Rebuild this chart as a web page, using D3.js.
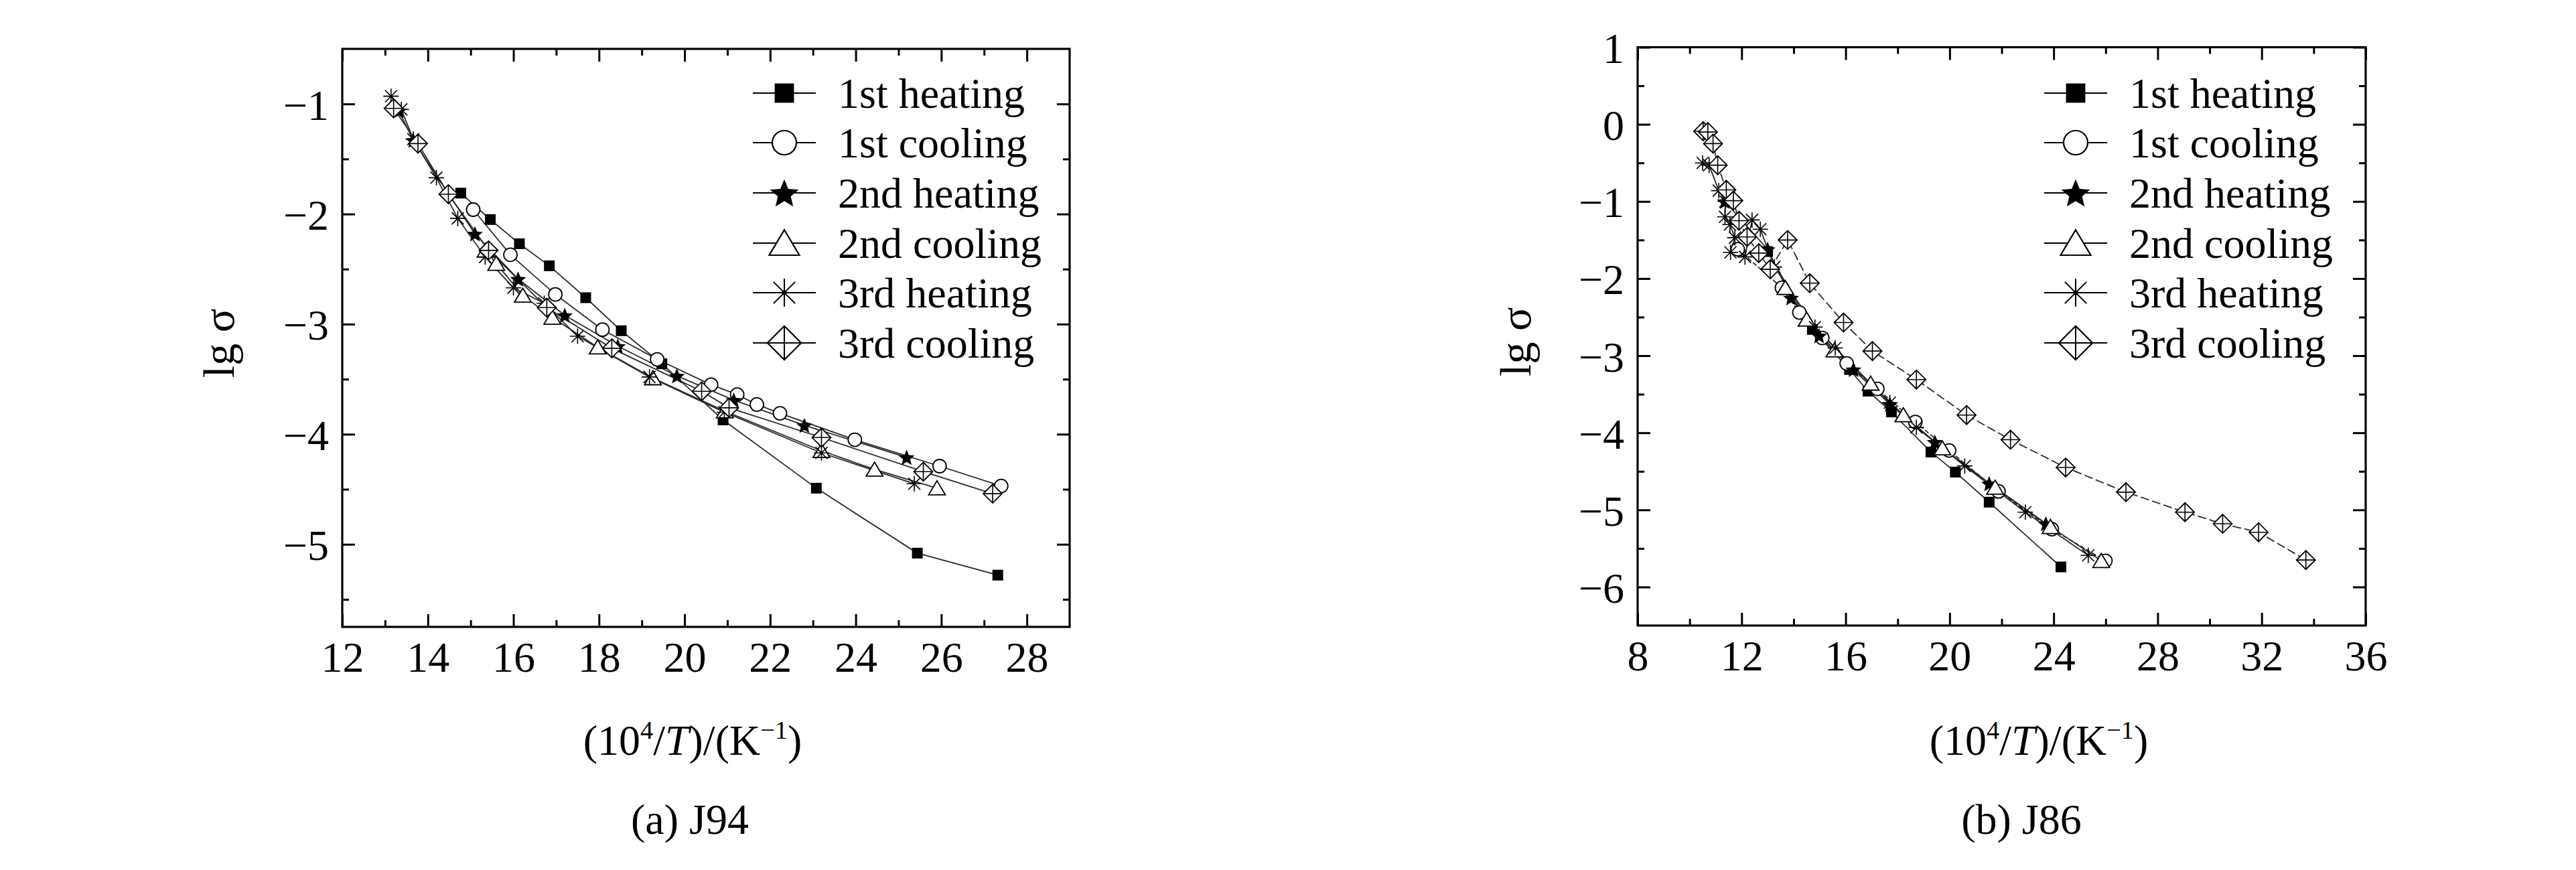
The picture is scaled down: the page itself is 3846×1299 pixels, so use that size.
<!DOCTYPE html>
<html><head><meta charset="utf-8">
<script src="https://cdn.jsdelivr.net/npm/d3@7"></script>
<style>
body{margin:0;background:#fff}
svg{display:block;background:#fff}
text{font-family:"Liberation Serif","Times New Roman",Times,serif;fill:#000}
</style>
</head><body>
<svg id="c" width="3846" height="1299"></svg>
<script>
// ---------------- DATA ----------------
const seriesNames = ["1st heating","1st cooling","2nd heating","2nd cooling","3rd heating","3rd cooling"];
const seriesSymbols = ["square","circle","star","triangle","asterisk","diamondPlus"];

// (a) J94 : [10^4/T, lg sigma]
const a_heat1 = [[14.77,-1.81],[15.46,-2.05],[16.14,-2.27],[16.84,-2.47],[17.69,-2.76],[18.52,-3.06],[19.47,-3.36],[20.90,-3.87],[23.08,-4.49],[25.44,-5.08],[27.32,-5.28]];
const a_cool1 = [[15.06,-1.96],[15.93,-2.37],[16.98,-2.73],[18.08,-3.05],[19.36,-3.32],[20.62,-3.55],[21.23,-3.64],[21.69,-3.73],[22.23,-3.81],[23.98,-4.05],[25.96,-4.29],[27.40,-4.47]];
const a_heat2 = [[13.32,-1.06],[13.66,-1.33],[15.10,-2.18],[16.11,-2.59],[17.20,-2.92],[18.44,-3.20],[19.82,-3.47],[21.15,-3.69],[22.80,-3.92],[25.19,-4.21]];
const a_cool2 = [[15.35,-2.33],[15.60,-2.45],[16.22,-2.74],[16.91,-2.94],[17.97,-3.21],[19.26,-3.49],[20.94,-3.79],[23.20,-4.15],[24.44,-4.32],[25.90,-4.49]];
const a_heat3 = [[13.14,-0.93],[13.38,-1.05],[13.66,-1.32],[14.20,-1.67],[14.70,-2.04],[15.34,-2.39],[16.00,-2.67],[16.72,-2.81],[17.50,-3.11],[19.18,-3.48],[20.93,-3.80],[23.20,-4.17],[25.37,-4.45]];
const a_cool3 = [[13.20,-1.04],[13.77,-1.36],[14.48,-1.82],[15.42,-2.33],[16.78,-2.85],[18.30,-3.22],[20.40,-3.61],[21.04,-3.76],[23.20,-4.03],[25.58,-4.34],[27.20,-4.54]];

// (b) J86
const b_heat1 = [[13.00,-1.65],[14.72,-2.66],[16.15,-3.18],[16.86,-3.46],[17.76,-3.73],[19.28,-4.25],[20.22,-4.51],[21.52,-4.90],[24.28,-5.74]];
const b_cool1 = [[11.85,-1.62],[13.55,-2.12],[14.22,-2.44],[15.10,-2.77],[16.04,-3.10],[17.22,-3.43],[18.68,-3.86],[19.98,-4.23],[21.88,-4.76],[23.93,-5.25],[25.99,-5.66]];
const b_heat2 = [[11.35,-1.00],[13.00,-1.62],[13.90,-2.25],[14.98,-2.74],[16.30,-3.18],[17.70,-3.63],[19.43,-4.12],[21.52,-4.66],[23.70,-5.18]];
const b_cool2 = [[13.68,-2.12],[14.50,-2.53],[15.57,-2.93],[16.96,-3.36],[18.22,-3.77],[19.72,-4.20],[21.75,-4.71],[23.88,-5.22],[25.83,-5.66]];
const b_heat3 = [[10.50,-0.50],[10.75,-0.53],[11.12,-0.86],[11.37,-1.00],[11.36,-1.20],[11.55,-1.30],[11.74,-1.47],[11.57,-1.66],[12.13,-1.72],[12.40,-1.24],[12.72,-1.36],[13.26,-1.85],[14.82,-2.63],[15.60,-2.90],[17.70,-3.61],[18.72,-3.93],[20.58,-4.43],[22.91,-5.03],[25.33,-5.59]];
const b_cool3 = [[10.52,-0.09],[10.70,-0.10],[10.90,-0.25],[11.08,-0.53],[11.41,-0.85],[11.68,-0.99],[11.90,-1.25],[12.21,-1.46],[12.66,-1.67],[13.10,-1.88],[13.77,-1.50],[14.62,-2.06],[15.92,-2.57],[17.03,-2.94],[18.72,-3.31],[20.65,-3.77],[22.34,-4.09],[24.46,-4.45],[26.78,-4.77],[29.05,-5.03],[30.50,-5.18],[31.88,-5.29],[33.70,-5.65]];

// tick labels
const a_xLabels = [12,14,16,18,20,22,24,26,28];
const a_xMinor  = [13,15,17,19,21,23,25,27];
const a_yLabels = [-1,-2,-3,-4,-5];
const a_yMinor  = [-1.5,-2.5,-3.5,-4.5,-5.5];
const b_xLabels = [8,12,16,20,24,28,32,36];
const b_xMinor  = [10,14,18,22,26,30,34];
const b_yLabels = [1,0,-1,-2,-3,-4,-5,-6];
const b_yMinor  = [0.5,-0.5,-1.5,-2.5,-3.5,-4.5,-5.5];

const yTitle = "lg σ";
const captions = ["(a) J94","(b) J86"];

// ---------------- DRAWING ----------------
const svg = d3.select("#c");
const FONT = '"Liberation Serif","Times New Roman",Times,serif';
const FS = 64, SX = 1.0;

function marker(g, type, s, sw){
  const st = "#000";
  if(type==="square"){
    g.append("rect").attr("x",-8*s).attr("y",-8*s).attr("width",16*s).attr("height",16*s).attr("fill","#000");
  } else if(type==="circle"){
    g.append("circle").attr("r",10*s).attr("fill","#fff").attr("stroke",st).attr("stroke-width",sw);
  } else if(type==="star"){
    const R=12.5*s, r=R*0.45, pts=[];
    for(let i=0;i<10;i++){const a=-Math.PI/2+i*Math.PI/5, rr=i%2?r:R; pts.push([rr*Math.cos(a), rr*Math.sin(a)+1.2*s]);}
    g.append("polygon").attr("points",pts.map(p=>p.join(",")).join(" ")).attr("fill","#000");
  } else if(type==="triangle"){
    const pts=[[0,-11*s],[12.5*s,10*s],[-12.5*s,10*s]];
    g.append("polygon").attr("points",pts.map(p=>p.join(",")).join(" ")).attr("fill","#fff").attr("stroke",st).attr("stroke-width",sw);
  } else if(type==="asterisk"){
    const R=11.5*s, d=R*0.78;
    const p=`M0,${-R}L0,${R}M${-R},0L${R},0M${-d},${-d}L${d},${d}M${-d},${d}L${d},${-d}`;
    g.append("path").attr("d",p).attr("stroke",st).attr("stroke-width",sw*0.9).attr("fill","none");
    g.append("circle").attr("r",2*s).attr("fill","#000");
  } else if(type==="diamondPlus"){
    const R=14*s;
    g.append("polygon").attr("points",`0,${-R} ${R},0 0,${R} ${-R},0`).attr("fill","#fff").attr("stroke",st).attr("stroke-width",sw);
    g.append("path").attr("d",`M0,${-R}L0,${R}M${-R},0L${R},0`).attr("stroke",st).attr("stroke-width",sw*0.9);
  }
}

function sText(parent, x, y, str, anchor, size){
  return parent.append("text")
    .attr("transform",`translate(${x},${y}) scale(${SX},1)`)
    .attr("text-anchor",anchor||"start")
    .attr("font-family",FONT)
    .attr("font-size",size||FS)
    .text(str);
}

function axisTitle(parent, cx, by){
  const t = parent.append("text")
    .attr("transform",`translate(${cx},${by}) scale(${SX},1)`)
    .attr("text-anchor","middle").attr("font-family",FONT).attr("font-size",FS);
  t.append("tspan").text("(10");
  t.append("tspan").attr("font-size",FS*0.6).attr("dy",-FS*0.38).text("4");
  t.append("tspan").attr("dy",FS*0.38).text("/");
  t.append("tspan").attr("font-style","italic").text("T");
  t.append("tspan").text(")/(K");
  t.append("tspan").attr("font-size",FS*0.6).attr("dy",-FS*0.38).text("−1");
  t.append("tspan").attr("dy",FS*0.38).text(")");
}

function panel(cfg){
  const g = svg.append("g");
  const x = d3.scaleLinear().domain(cfg.xDomain).range(cfg.xRange);
  const y = d3.scaleLinear().domain(cfg.yDomain).range(cfg.yRange);
  const [x0,x1] = cfg.xRange, [y0,y1] = cfg.yRange; // y0 bottom, y1 top
  const fmt = d => d3.format("d")(d);
  const MAJ=19, MIN=10;

  const gb = g.append("g").attr("transform",`translate(0,${y0})`)
    .call(d3.axisBottom(x).tickValues(cfg.xLabels).tickSize(-MAJ).tickFormat(fmt));
  gb.selectAll("text").attr("y",67).attr("dy",null).attr("font-size",FS).attr("font-family",FONT)
    .attr("transform",`scale(${SX},1)`);
  g.append("g").attr("transform",`translate(0,${y0})`)
    .call(d3.axisBottom(x).tickValues(cfg.xMinor).tickSize(-MIN).tickFormat(""));
  g.append("g").attr("transform",`translate(0,${y1})`)
    .call(d3.axisTop(x).tickValues(cfg.xLabels).tickSize(-MAJ).tickFormat(""));
  g.append("g").attr("transform",`translate(0,${y1})`)
    .call(d3.axisTop(x).tickValues(cfg.xMinor).tickSize(-MIN).tickFormat(""));
  const gl = g.append("g").attr("transform",`translate(${x0},0)`)
    .call(d3.axisLeft(y).tickValues(cfg.yLabels).tickSize(-MAJ).tickFormat(fmt));
  gl.selectAll("text").attr("x",-20/SX).attr("dy","0.36em").attr("font-size",FS).attr("font-family",FONT)
    .attr("transform",`scale(${SX},1)`);
  g.append("g").attr("transform",`translate(${x0},0)`)
    .call(d3.axisLeft(y).tickValues(cfg.yMinor).tickSize(-MIN).tickFormat(""));
  g.append("g").attr("transform",`translate(${x1},0)`)
    .call(d3.axisRight(y).tickValues(cfg.yLabels).tickSize(-MAJ).tickFormat(""));
  g.append("g").attr("transform",`translate(${x1},0)`)
    .call(d3.axisRight(y).tickValues(cfg.yMinor).tickSize(-MIN).tickFormat(""));
  g.selectAll(".domain").remove();
  g.selectAll(".tick line").attr("stroke","#000").attr("stroke-width",3);
  g.selectAll(".tick text").attr("fill","#000");

  g.append("rect").attr("x",x0).attr("y",y1).attr("width",x1-x0).attr("height",y0-y1)
    .attr("fill","none").attr("stroke","#000").attr("stroke-width",3.2);

  const line = d3.line().x(d=>x(d[0])).y(d=>y(d[1]));
  cfg.series.forEach((data,i)=>{
    g.append("path").attr("d",line(data)).attr("fill","none")
      .attr("stroke","#2a2a2a").attr("stroke-width",1.8)
      .attr("stroke-dasharray",cfg.dashes[i]||null);
  });
  cfg.series.forEach((data,i)=>{
    data.forEach(d=>{
      const mg = g.append("g").attr("transform",`translate(${x(d[0])},${y(d[1])})`);
      marker(mg, seriesSymbols[i], 1, 1.8);
    });
  });

  seriesNames.forEach((nm,i)=>{
    const ry = cfg.legendY[i];
    const cx = cfg.legendX;
    g.append("line").attr("x1",cx-47).attr("x2",cx+47).attr("y1",ry).attr("y2",ry)
      .attr("stroke","#000").attr("stroke-width",2.2);
    const mg = g.append("g").attr("transform",`translate(${cx},${ry})`);
    marker(mg, seriesSymbols[i], 1.8, 2.2);
    sText(g, cx+80, ry+22, nm, "start");
  });

  g.append("text").attr("transform",`translate(${cfg.yTitleX},${(y0+y1)/2+8}) rotate(-90)`)
    .attr("text-anchor","middle").attr("dy","0.35em").attr("font-family",FONT).attr("font-size",66).text(yTitle);
  axisTitle(g, cfg.titleX, 1127);
  sText(g, cfg.captionX, 1245, cfg.caption, "middle");
}

const legendRows = [139,213,288,363,437,512];

panel({
  xDomain:[12,29], xRange:[511,1597], yDomain:[-5.75,-0.5], yRange:[936,73],
  xLabels:a_xLabels, xMinor:a_xMinor, yLabels:a_yLabels, yMinor:a_yMinor,
  series:[a_heat1,a_cool1,a_heat2,a_cool2,a_heat3,a_cool3],
  dashes:[null,null,null,null,null,null],
  legendX:1171, legendY:legendRows, yTitleX:326, titleX:1034, captionX:1030, caption:captions[0]
});
panel({
  xDomain:[8,36], xRange:[2445,3532], yDomain:[-6.5,1], yRange:[934,70.5],
  xLabels:b_xLabels, xMinor:b_xMinor, yLabels:b_yLabels, yMinor:b_yMinor,
  series:[b_heat1,b_cool1,b_heat2,b_cool2,b_heat3,b_cool3],
  dashes:[null,"7,3",null,null,null,"13,5"],
  legendX:3099, legendY:legendRows, yTitleX:2262, titleX:3044, captionX:3018, caption:captions[1]
});
</script>
</body></html>
